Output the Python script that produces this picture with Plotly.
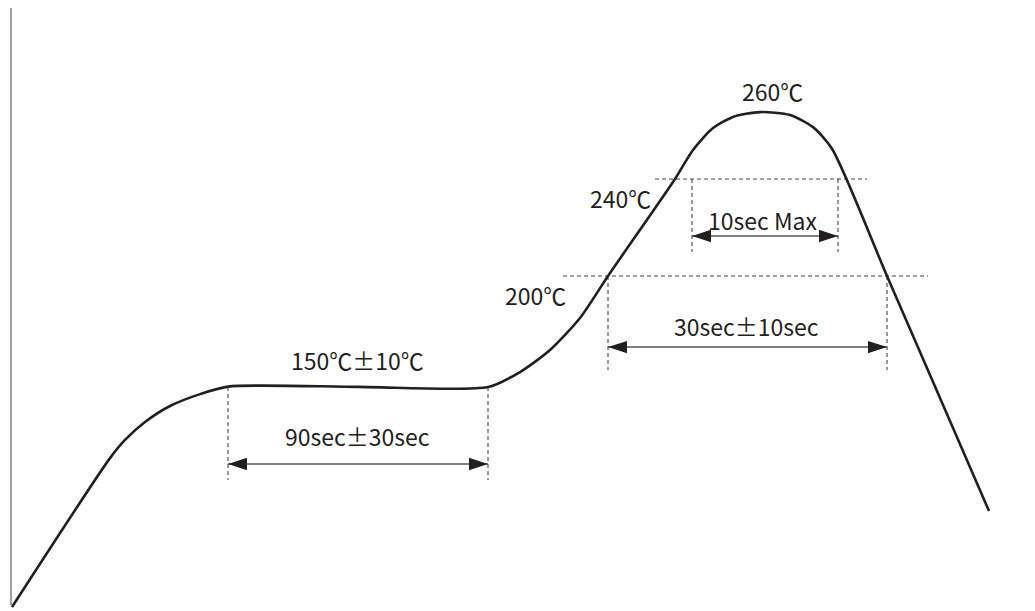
import plotly.graph_objects as go

# Reflow profile (schematic): time axis in drawing units, temperature in °C (schematic scale)
profile_time = [12, 110, 125, 145, 170, 200, 228, 358, 488, 520, 550, 580, 608, 675, 693,
                713, 733, 760, 790, 813, 832, 887, 940, 989]
profile_temp = [63.5, 124.9, 132.4, 139.8, 146.4, 151.3, 154.4, 154.3, 154.2, 160.4, 169.5, 182.7, 200.0, 240.0, 252.0,
                261.0, 265.6, 267.6, 266.4, 261.4, 252.5, 200.0, 149.7, 103.1]

axis_time = [11, 11]
axis_temp = [310.5, 64.3]

# reference levels (horizontal dashed)
level_temp = [200, 240]
level_start = [563, 655]
level_end = [928, 867]

# interval markers: start time, end time, vertical guide top, guide bottom, arrow level
span_start = [228, 608, 692]
span_end = [488, 887, 838]
span_top = [154.2, 200, 240]
span_bottom = [115.9, 161.2, 209.9]
span_arrow = [122.5, 170.7, 216.5]

labels = ["260℃", "240℃", "200℃", "150℃±10℃", "90sec±30sec", "30sec±10sec", "10sec Max"]
label_time = [772, 620, 535, 357, 357, 746, 763]
label_temp = [276.3, 232.2, 192.2, 165.4, 133.9, 179.3, 223.2]

INK = "#231f20"
fig = go.Figure()

fig.add_trace(go.Scatter(x=axis_time, y=axis_temp, mode="lines",
                         line=dict(color="#808080", width=1.5), hoverinfo="skip"))

for t, a, b in zip(level_temp, level_start, level_end):
    fig.add_trace(go.Scatter(x=[a, b], y=[t, t], mode="lines",
                             line=dict(color="#444444", width=1, dash="4px,3px"), hoverinfo="skip"))

for s, e, top, bot, ay in zip(span_start, span_end, span_top, span_bottom, span_arrow):
    for xx in (s, e):
        fig.add_trace(go.Scatter(x=[xx, xx], y=[top, bot], mode="lines",
                                 line=dict(color="#333333", width=1, dash="4px,3px"), hoverinfo="skip"))
    fig.add_trace(go.Scatter(x=[s, e], y=[ay, ay], mode="lines",
                             line=dict(color="#555555", width=1.5), hoverinfo="skip"))
    fig.add_trace(go.Scatter(x=[s, e], y=[ay, ay], mode="markers",
                             marker=dict(symbol="arrow", size=20, angle=[-90, 90], color=INK,
                                         line=dict(width=0)),
                             hoverinfo="skip"))

fig.add_trace(go.Scatter(x=profile_time, y=profile_temp, mode="lines",
                         line=dict(color=INK, width=2.6, shape="spline", smoothing=0.7),
                         hoverinfo="skip"))

for txt, x, y in zip(labels, label_time, label_temp):
    fig.add_annotation(x=x, y=y, text=txt, showarrow=False, xanchor="center", yanchor="middle",
                       font=dict(family="Noto Sans CJK KR", size=23, color=INK))

# the page adds an 8px body margin, so the ranges are shifted by 8px to compensate
fig.update_layout(
    width=1035, height=611,
    margin=dict(l=0, r=0, t=0, b=0),
    paper_bgcolor="white", plot_bgcolor="white",
    showlegend=False,
    xaxis=dict(range=[8, 1043], visible=False, fixedrange=True),
    yaxis=dict(range=[58.56, 310.52], visible=False, fixedrange=True),
)

fig.write_html("out.html")
